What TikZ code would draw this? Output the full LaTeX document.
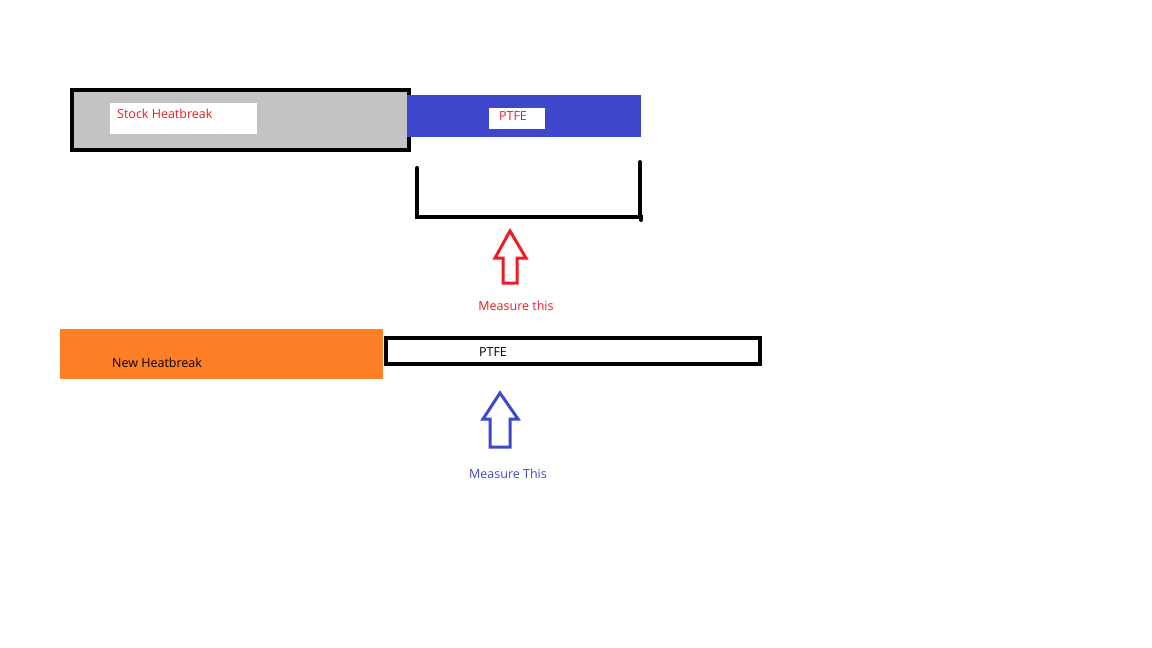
\documentclass[tikz,border=0pt]{standalone}
\usepackage{fontspec}
\setmainfont{Open Sans}
\definecolor{pred}{HTML}{ED1C24}
\definecolor{pblue}{HTML}{3F48CC}
\definecolor{porange}{HTML}{FF7F27}
\definecolor{pgrey}{HTML}{C3C3C3}
\tikzset{
  lbl/.style={font=\fontsize{12.5}{14}\selectfont, inner sep=0pt},
  thick4/.style={line width=4pt},
  hollowarrow/.style={line width=3pt, fill=white, line join=miter},
}
\begin{document}
\begin{tikzpicture}[x=1pt,y=-1pt]
\useasboundingbox (0,0) rectangle (1152,648);
% stock heatbreak
\node[draw=black, thick4, fill=pgrey, minimum width=337pt, minimum height=60pt, anchor=north west, inner sep=0pt] (stock) at (70,88) {};
\fill[white] (110,103) rectangle (257,134);
\node[lbl, text=pred, anchor=west] (stocklbl) at (117,114) {Stock Heatbreak};
% blue PTFE
\fill[pblue] (407,95) rectangle (641,137);
\fill[white] (489,108) rectangle (545,129);
\node[lbl, text=pred] (ptfe1) at (513,116) {PTFE};
% bracket
\coordinate (bl) at (417,168);
\coordinate (br) at (640,162);
\draw[thick4, line cap=round] (bl) -- (417,217) -- (641,217) -- (641,220);
\draw[thick4, line cap=round] (br) -- (640,217);
% red arrow
\draw[hollowarrow, draw=pred] (510,231) -- (526,258) -- (517,258) -- (517,283) -- (503,283) -- (503,258) -- (495,258) -- cycle;
\node[lbl, text=pred] (m1) at (516,306) {Measure this};
% new heatbreak
\fill[porange] (60,329) rectangle (383,379);
\node[lbl, text=black, anchor=west] (newlbl) at (112,363) {New Heatbreak};
\node[draw=black, thick4, fill=white, minimum width=374pt, minimum height=26pt, anchor=north west, inner sep=0pt] (ptfebox) at (384,336) {};
\node[lbl, text=black] (ptfe2) at (493,352) {PTFE};
% blue arrow
\draw[hollowarrow, draw=pblue] (500,393) -- (518,419) -- (510,419) -- (510,447) -- (490,447) -- (490,419) -- (483,419) -- cycle;
\node[lbl, text=pblue] (m2) at (508,474) {Measure This};
\end{tikzpicture}
\end{document}
